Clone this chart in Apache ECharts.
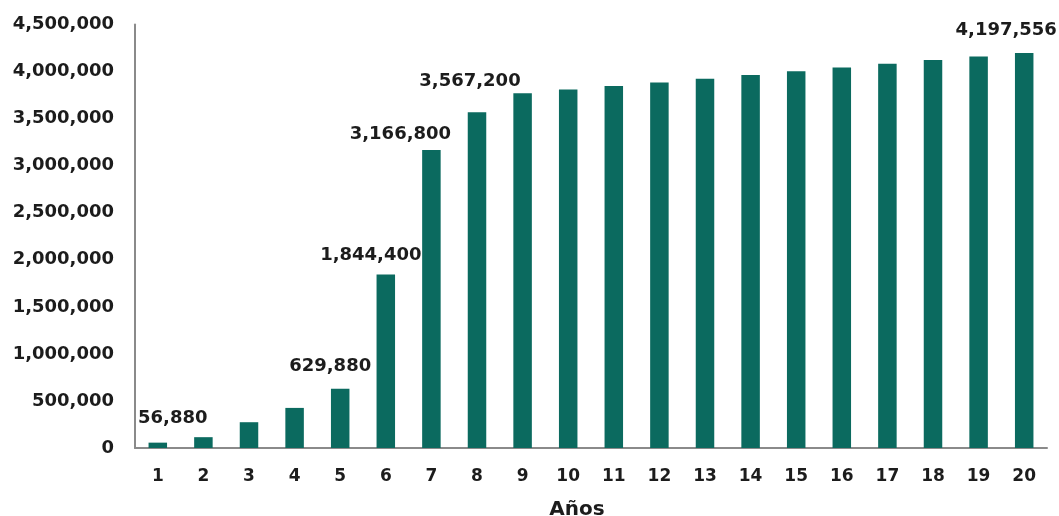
<!DOCTYPE html>
<html>
<head>
<meta charset="utf-8">
<script src="https://cdn.jsdelivr.net/npm/echarts@6/dist/echarts.min.js"></script>
<style>
  html, body { margin: 0; padding: 0; background: #ffffff; }
  #chart { width: 1059px; height: 516px; }
</style>
</head>
<body>
<div id="chart"></div>
<script>
// Years on the horizontal axis
const years = ['1','2','3','4','5','6','7','8','9','10','11','12','13','14','15','16','17','18','19','20'];

// Accumulated amount per year
const amounts = [56880, 115000, 274000, 426000, 629880, 1844400, 3166800, 3567200,
                 3770000, 3808000, 3846000, 3885000, 3924000, 3963000, 4003000,
                 4043000, 4083000, 4124000, 4160000, 4197556];

// Years whose value is printed above the bar
const labeledYears = ['1', '5', '6', '7', '8', '20'];

// Value axis ticks
const yMin = 0;
const yMax = 4500000;
const yStep = 500000;

const barColor = '#0b6a5f';
const textColor = '#1c1c1c';
const fontFamily = '"DejaVu Sans", sans-serif';

// Hand placement of the printed values, relative to the top of each bar
const labelShift = {
  '1':  [15, -10],
  '5':  [-10, -8],
  '6':  [-15, -5],
  '7':  [-31, -2],
  '8':  [-7, -17],
  '20': [-18, -9]
};

const fmt = v => v.toLocaleString('en-US');

const seriesData = amounts.map((v, i) => {
  const y = years[i];
  const item = { value: v };
  if (labeledYears.includes(y)) {
    item.label = {
      show: true,
      position: 'top',
      distance: 5,
      offset: labelShift[y] || [0, 0],
      formatter: p => fmt(p.value),
      color: textColor,
      fontFamily: fontFamily,
      fontWeight: 'bold',
      fontSize: 18,
      lineHeight: 18
    };
  }
  return item;
});

const chart = echarts.init(document.getElementById('chart'), null, { renderer: 'canvas' });

chart.setOption({
  animation: false,
  backgroundColor: '#ffffff',
  grid: { left: 135, right: 12, top: 24.5, bottom: 68, containLabel: false, outerBoundsMode: 'none' },
  xAxis: {
    type: 'category',
    data: years,
    name: 'Años',
    nameLocation: 'middle',
    nameGap: 52,
    nameTextStyle: {
      color: textColor,
      fontFamily: fontFamily,
      fontWeight: 'bold',
      fontSize: 20,
      padding: [0, 28, 0, 0]
    },
    axisLine: { show: true, lineStyle: { color: '#8a8a8a', width: 2 } },
    axisTick: { show: false },
    axisLabel: {
      color: textColor,
      fontFamily: fontFamily,
      fontWeight: 'bold',
      fontSize: 17,
      margin: 20
    },
    splitLine: { show: false }
  },
  yAxis: {
    type: 'value',
    min: yMin,
    max: yMax,
    interval: yStep,
    axisLine: { show: true, lineStyle: { color: '#8a8a8a', width: 2 } },
    axisTick: { show: false },
    axisLabel: {
      color: textColor,
      fontFamily: fontFamily,
      fontWeight: 'bold',
      fontSize: 18,
      margin: 21,
      formatter: v => fmt(v)
    },
    splitLine: { show: false }
  },
  series: [{
    type: 'bar',
    data: seriesData,
    barWidth: 18.5,
    itemStyle: { color: barColor },
    label: { show: false }
  }]
});
</script>
</body>
</html>
